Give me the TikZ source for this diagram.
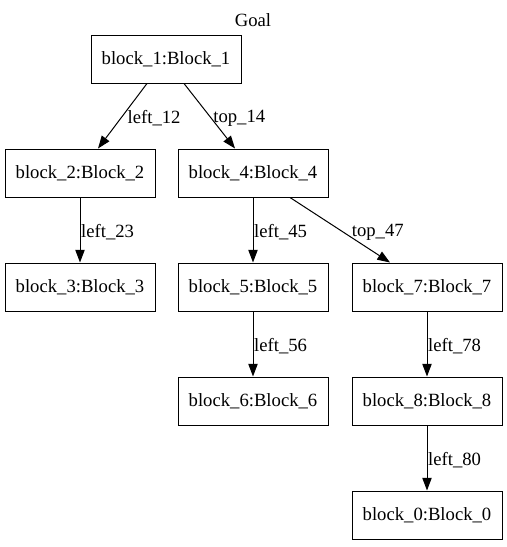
\documentclass[tikz,border=0pt]{standalone}
\usepackage{fontspec}
\setmainfont{Liberation Serif}
\usetikzlibrary{arrows.meta}
\begin{document}
\begin{tikzpicture}[x=0.75pt, y=-0.75pt,
    font=\fontsize{14pt}{16pt}\selectfont,
    block/.style={draw, line width=0.75pt, minimum width=112.5pt, minimum height=36pt, inner sep=0pt},
    edge/.style={line width=0.75pt, -{Triangle[length=9.5pt, width=7pt]}},
    lbl/.style={inner sep=0.5pt, anchor=west, yshift=-1.5pt}]
    \useasboundingbox (0,0) rectangle (507,547);
    \node (goal) at (253,20) {Goal};
    \node[block] (b1) at (166,59) {block\_1:Block\_1};
    \node[block] (b2) at (80,173) {block\_2:Block\_2};
    \node[block] (b4) at (253,173) {block\_4:Block\_4};
    \node[block] (b3) at (80,287) {block\_3:Block\_3};
    \node[block] (b5) at (253,287) {block\_5:Block\_5};
    \node[block] (b7) at (427,287) {block\_7:Block\_7};
    \node[block] (b6) at (253,401) {block\_6:Block\_6};
    \node[block] (b8) at (427,401) {block\_8:Block\_8};
    \node[block] (b0) at (427,515) {block\_0:Block\_0};
    \draw[edge] (b1.south -| 147,0) -- node[lbl, xshift=3pt]{left\_12} (b2.north -| 98,0);
    \draw[edge] (b1.south -| 184,0) -- node[lbl, xshift=2pt]{top\_14} (b4.north -| 235,0);
    \draw[edge] (b2) -- node[lbl]{left\_23} (b3);
    \draw[edge] (b4) -- node[lbl]{left\_45} (b5);
    \draw[edge] (b4.south -| 290,0) -- node[lbl, xshift=8pt]{top\_47} (b7.north -| 390,0);
    \draw[edge] (b5) -- node[lbl]{left\_56} (b6);
    \draw[edge] (b7) -- node[lbl]{left\_78} (b8);
    \draw[edge] (b8) -- node[lbl]{left\_80} (b0);
\end{tikzpicture}
\end{document}
